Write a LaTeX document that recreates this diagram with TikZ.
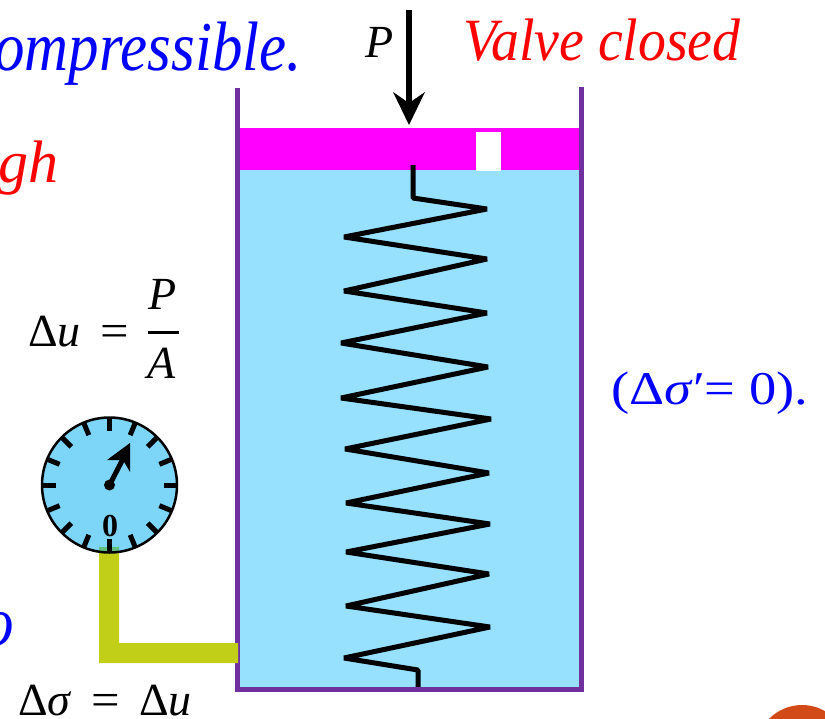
\documentclass[tikz,border=0pt]{standalone}
\usetikzlibrary{calc}
\usepackage{fontspec}
\setmainfont{Liberation Serif}
\definecolor{wall}{HTML}{7030A0}
\definecolor{water}{HTML}{97E1FF}
\definecolor{piston}{HTML}{FF00FF}
\definecolor{gaugefill}{HTML}{7DD5F8}
\definecolor{tube}{HTML}{C2CF19}
\definecolor{tubeover}{HTML}{5FBF7F}
\definecolor{lump}{HTML}{D24A17}
\newcommand{\narrow}[2]{\scalebox{#1}[1]{#2}}
\begin{document}
\begin{tikzpicture}[x=1pt,y=-1pt,
  wallline/.style={draw=wall,line width=5pt},
  springline/.style={draw=black,line width=5pt,line join=bevel},
  tickline/.style={draw=black,line width=5pt},
  bluetext/.style={text=blue,font=\fontsize{70}{70}\selectfont\itshape,inner sep=0pt},
  redtext/.style={text=red,font=\fontsize{60}{60}\selectfont\itshape,inner sep=0pt},
  blacktext/.style={text=black,font=\fontsize{46}{46}\selectfont,inner sep=0pt},
  bluemath/.style={text=blue,font=\fontsize{47}{47}\selectfont,inner sep=0pt}]
\useasboundingbox (0,0) rectangle (825,718);
% liquid, piston, valve
\fill[water] (238,170) rectangle (580,688);
\fill[piston] (238,128) rectangle (580,170);
\fill[white] (476,132) rectangle (501,171);
% spring
\path[springline] (413,165) -- (413,198) -- (487,209) -- (344,237) -- (487,259) -- (344,291)
  -- (487,313) -- (341,343) -- (488,367) -- (341,398) -- (491,419) -- (345,449)
  -- (489,473) -- (346,503) -- (490,524) -- (346,552) -- (489,574) -- (346,606)
  -- (490,627) -- (344,658) -- (418,670) -- (418,688);
% walls
\path[wallline] (237,88) -- (237,689.5) -- (581,689.5) -- (581,87);
% load arrow
\coordinate (loadtop) at (409,10);
\coordinate (loadtip) at (409,125);
\draw[line width=6.5pt] (loadtop) -- (409,108);
\fill (loadtip) -- (393,92) -- (409,103) -- (425,92) -- cycle;
% tube
\fill[tube] (99,553) -- (119,553) -- (119,643) -- (238,643) -- (238,663) -- (99,663) -- cycle;
% gauge
\coordinate (gc) at (109.5,485);
\fill[gaugefill] (gc) circle (67.5);
\begin{scope}
\clip (gc) circle (67.5);
\fill[tubeover] (99,547) rectangle (119,554);
\end{scope}
\draw[line width=2.5pt] (gc) circle (67.5);
\foreach \a in {0,22.5,...,337.5}
  \draw[tickline] ($(gc)+(\a:67)$) -- ($(gc)+(\a:54)$);
\draw[line width=5pt] (gc) -- (125,455);
\fill (gc) circle (5.5);
\fill (130,443) -- (107,460) -- (123,460) -- (130,472) -- cycle;
\node[inner sep=0pt,font=\fontsize{32}{32}\selectfont\bfseries] (zero) at (110,526) {0};
% texts
\node[bluetext,anchor=base east] (t1) at (302,70) {\narrow{.87}{ompressible.}};
\node[redtext,anchor=base east] (t2) at (59,182) {\narrow{1}{gh}};
\node[bluetext,anchor=base east] (t3) at (14,645) {\narrow{.87}{o}};
\node[bluetext,anchor=base east] (t5) at (2,533) {.};
\node[redtext,anchor=base west] (t4) at (463,60) {\narrow{.93}{Valve closed}};
\node[blacktext,anchor=base] (p) at (380,57) {\itshape P};
\node[blacktext,anchor=base west] (du) at (28,346) {Δ\textit{u}\hspace{.42em}\narrow{1.1}{=}};
\node[blacktext,anchor=base] (pa) at (163,309) {\itshape P};
\draw[line width=3pt] (148,332) -- (179,332);
\node[blacktext,anchor=base] (aa) at (162,378) {\itshape A};
\node[blacktext,anchor=base west] (ds) at (18,715) {Δ\textit{σ}\hspace{.42em}\narrow{1.1}{=}\hspace{.42em}Δ\textit{u}};
\node[bluemath,anchor=base west] (z) at (611,404) {\narrow{1.16}{(Δ\textit{σ}′= 0).}};
% lump at the corner
\fill[lump] (802,751) circle (46);
\end{tikzpicture}
\end{document}
